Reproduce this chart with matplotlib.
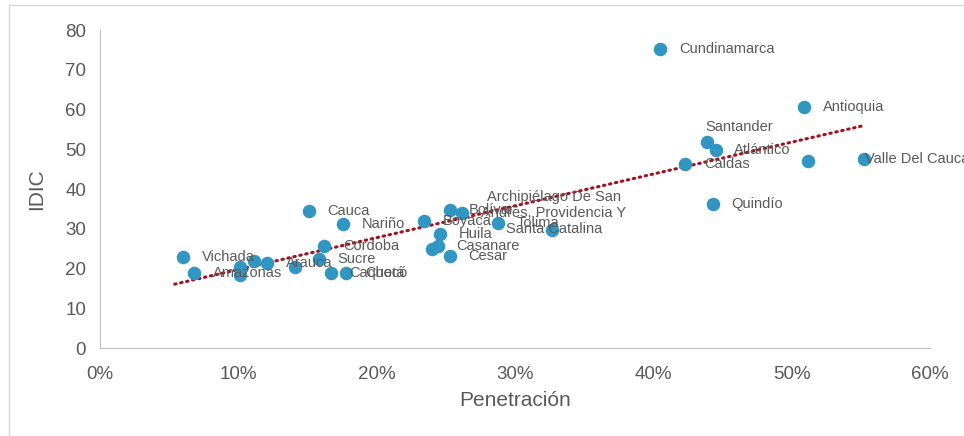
import numpy as np
import matplotlib
matplotlib.use("Agg")
import matplotlib.pyplot as plt
from matplotlib.patches import Rectangle

# penetracion (%) vs IDIC por departamento
names = ["Vichada", "Amazonas", "", "", "", "Arauca", "", "Cauca", "Sucre",
         "Cordoba", "Caquetá", "Nariño", "Chocó", "Boyacá", "Huila", "Casanare",
         "", "Cesar", "Bolívar",
         "Archipiélago De San\nAndrés, Providencia Y\nSanta Catalina",
         "Tolima", "", "Cundinamarca", "Caldas", "Santander", "Atlántico",
         "Quindío", "Antioquia", "", "Valle Del Cauca"]
penetracion = [6.0, 6.8, 10.1, 10.1, 11.1, 12.1, 14.1, 15.1, 15.8,
               16.2, 16.7, 17.6, 17.8, 23.4, 24.6, 24.4,
               24.0, 25.3, 25.3,
               26.2,
               28.8, 32.7, 40.5, 42.3, 43.9, 44.5,
               44.3, 50.9, 51.2, 55.2]
idic = [22.9, 18.9, 20.4, 18.4, 21.9, 21.4, 20.4, 34.5, 22.4,
        25.7, 18.9, 31.2, 18.9, 32.0, 28.6, 25.7,
        24.9, 23.1, 34.7,
        34.0,
        31.4, 29.7, 75.2, 46.3, 51.8, 49.8,
        36.3, 60.6, 47.1, 47.6]

x_ticks = [0, 10, 20, 30, 40, 50, 60]
y_ticks = [0, 10, 20, 30, 40, 50, 60, 70, 80]

grey = "#595959"
plt.rcParams['font.family'] = ['Liberation Sans', 'DejaVu Sans']

fig = plt.figure(figsize=(9.64, 4.36), dpi=100)
ax = fig.add_axes([0.1037, 0.2018, 0.8610, 0.7292])

# frame of the chart area
fig.patches.append(Rectangle((9 / 964, -0.1), 1.2, 1 - 5 / 436 + 0.1,
                             transform=fig.transFigure, fill=False,
                             edgecolor="#d9d9d9", lw=1))

x = np.array(penetracion)
y = np.array(idic)
ax.scatter(x, y, s=95, color="#3196c2", zorder=3, linewidths=0)

# linear trend
m, b = np.polyfit(x, y, 1)
xt = np.array([x.min() - 0.6, x.max()])
ax.plot(xt, m * xt + b, color="#a3131e", lw=2.2, ls=(0, (0.5, 1.5)),
        dash_capstyle="round", zorder=2)

# label offsets in points (special cases)
offsets = {"Santander": (23, 11), "Valle Del Cauca": (1, 0)}
for n, xi, yi in zip(names, x, y):
    if not n:
        continue
    dx, dy = offsets.get(n, (13.5, 0))
    ha = "center" if n == "Santander" else "left"
    ax.annotate(n, (xi, yi), xytext=(dx, dy), textcoords="offset points",
                ha=ha, va="center", multialignment="center",
                fontsize=10.5, color=grey, zorder=4, annotation_clip=False)

ax.set_xlim(0, 60)
ax.set_ylim(0, 80)
ax.set_xticks(x_ticks)
ax.set_xticklabels([f"{t}%" for t in x_ticks])
ax.set_yticks(y_ticks)
ax.tick_params(length=0, labelsize=13.5, colors=grey)
ax.tick_params(axis="x", pad=13)
ax.tick_params(axis="y", pad=10)
for s in ["top", "right"]:
    ax.spines[s].set_visible(False)
for s in ["left", "bottom"]:
    ax.spines[s].set_color("#bfbfbf")
ax.set_xlabel("Penetración", fontsize=15, color=grey, labelpad=6)
ax.set_ylabel("IDIC", fontsize=15, color=grey, labelpad=14)

fig.savefig("out.png", dpi=100)
